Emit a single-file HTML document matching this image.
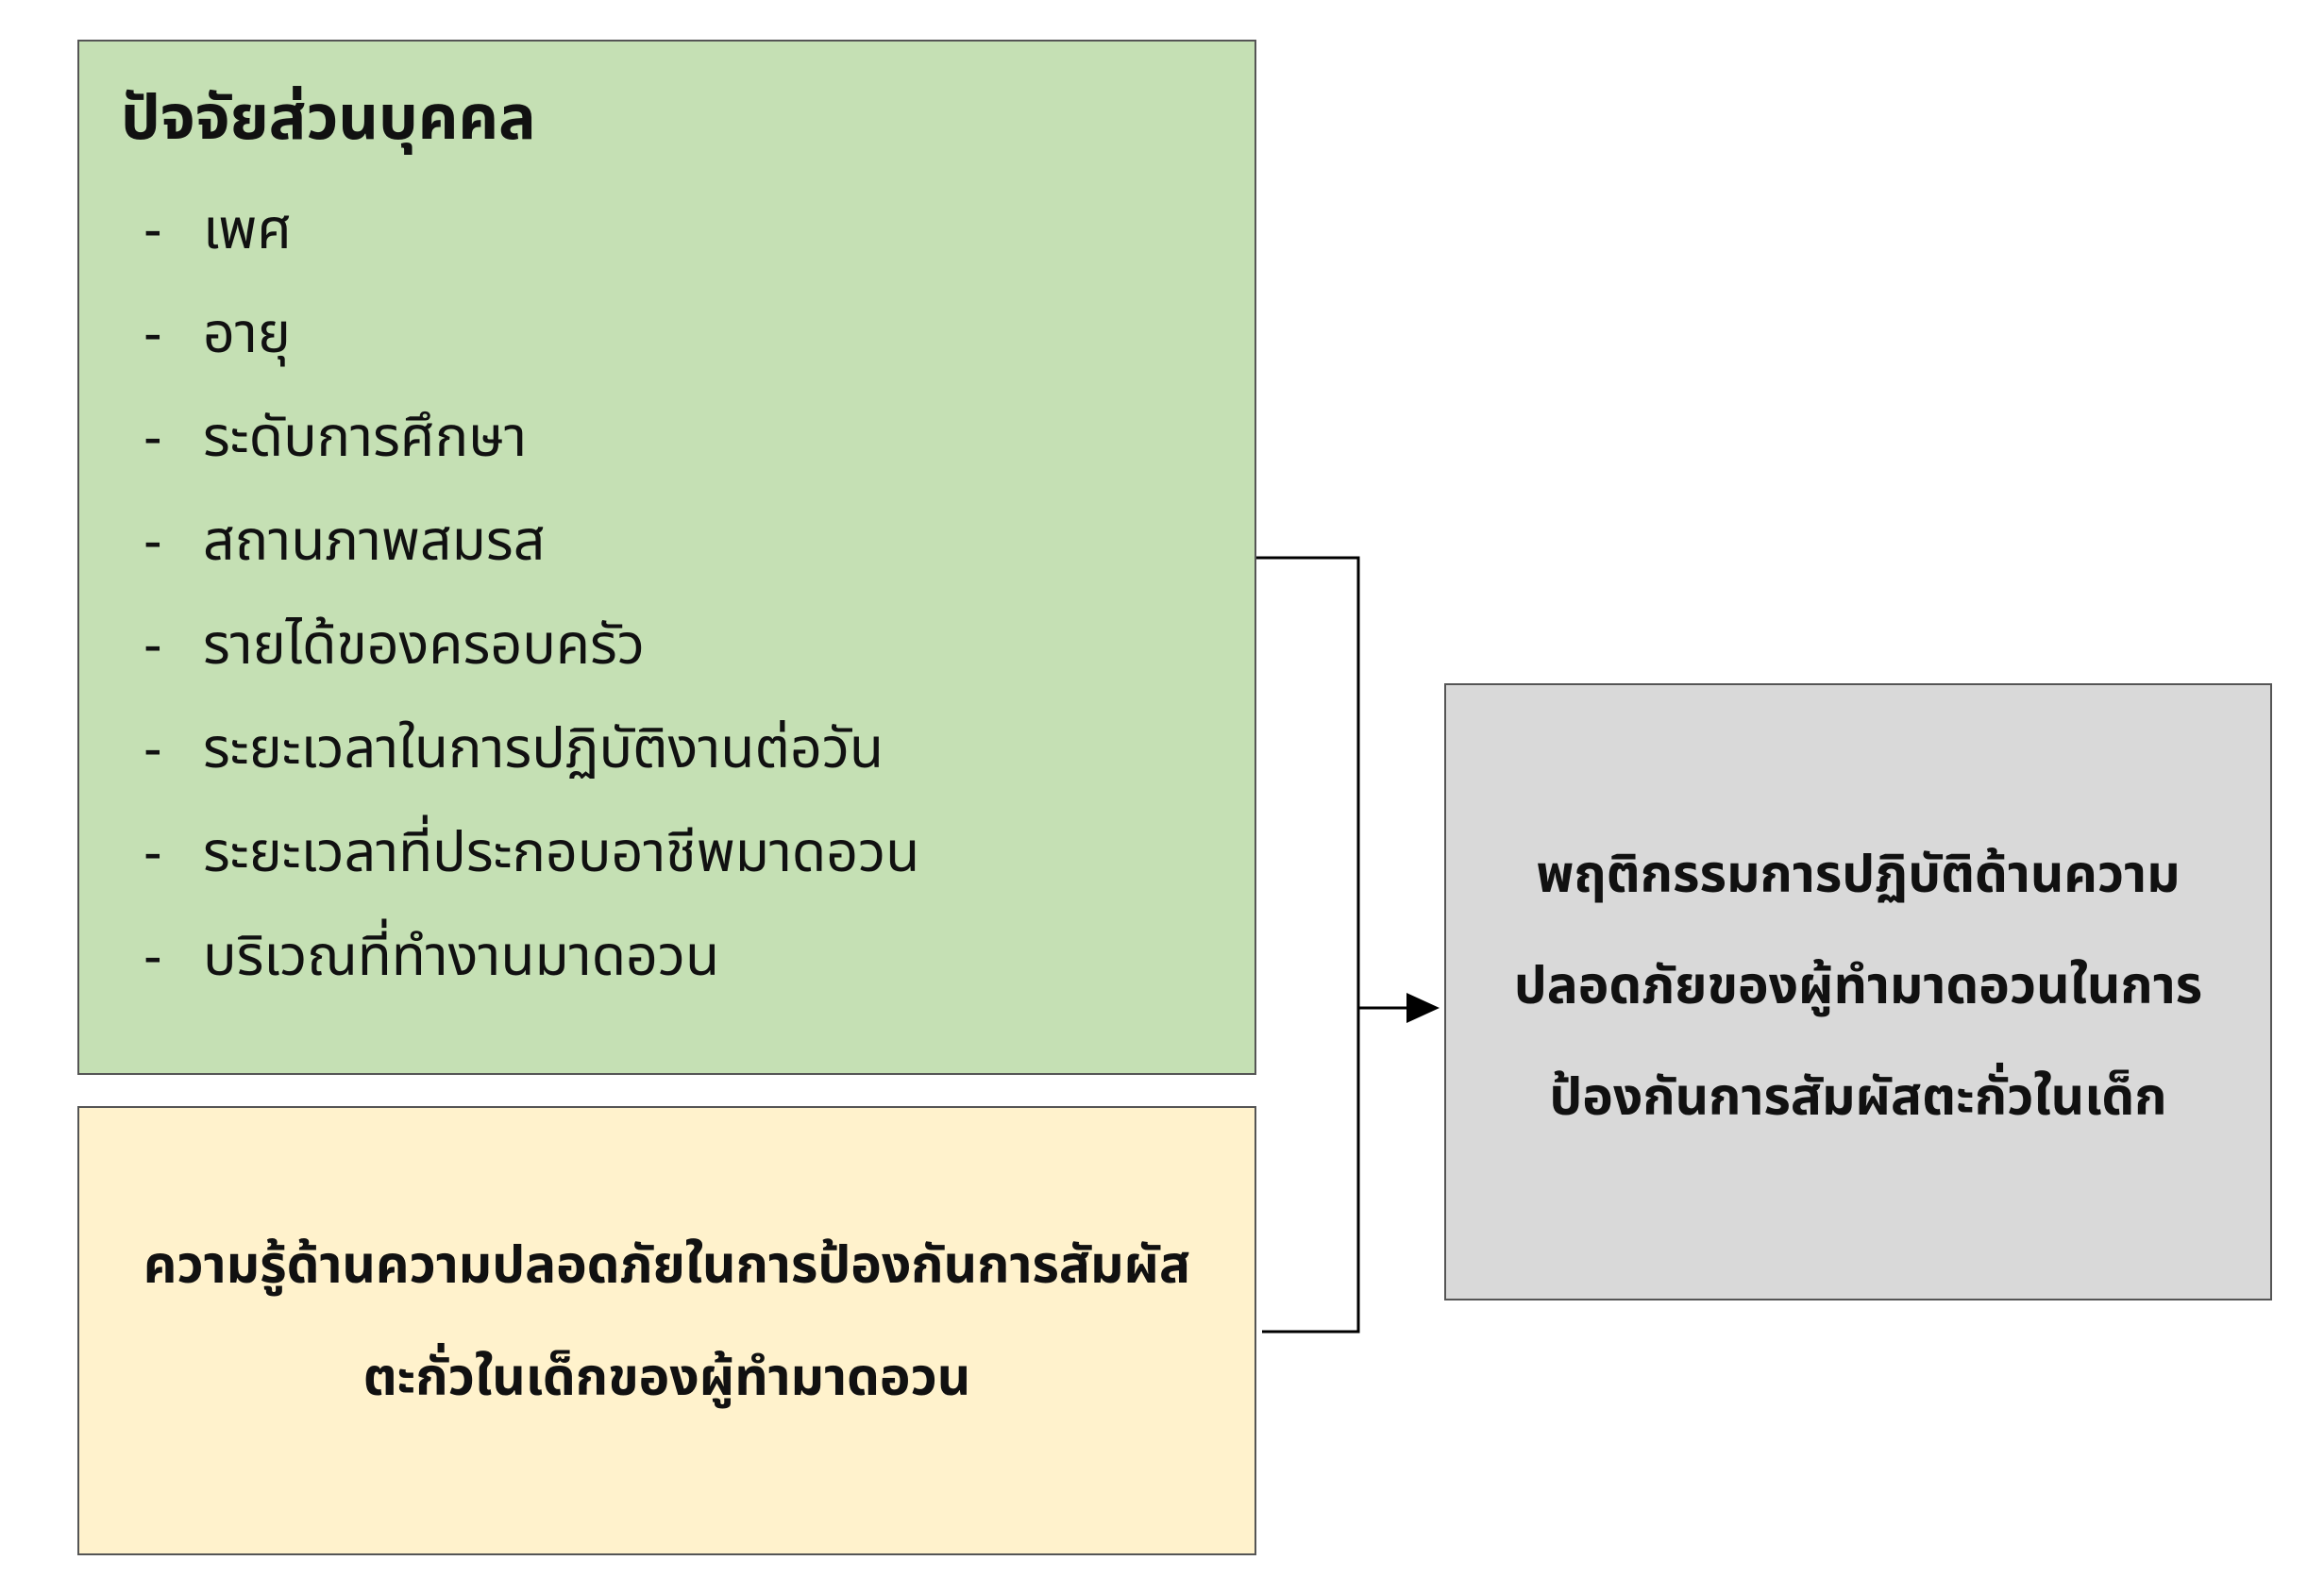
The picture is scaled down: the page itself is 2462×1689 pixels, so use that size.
<!DOCTYPE html>
<html><head><meta charset="utf-8"><style>
body{margin:0;width:2462px;height:1689px;background:#fff;position:relative;overflow:hidden;font-family:"Liberation Sans","Noto Sans Thai","Loma","Garuda",sans-serif;color:#111;}
.box{position:absolute;box-sizing:border-box;border:2px solid #555;}
.t{position:absolute;white-space:nowrap;}
.li{position:absolute;font-size:59px;line-height:70px;white-space:nowrap;}
.c{position:absolute;left:0;right:0;text-align:center;font-weight:bold;font-size:55px;line-height:64px;white-space:nowrap;}
</style></head><body>
<div class="box" style="left:82px;top:42px;width:1249px;height:1097px;background:#c5e0b4"></div>
<div class="box" style="left:82px;top:1172px;width:1249px;height:476px;background:#fff2cc"></div>
<div class="box" style="left:1530px;top:724px;width:877px;height:654px;background:#d9d9d9"></div>

<div class="t" style="left:128px;top:88px;font-size:66px;font-weight:bold;line-height:72px">ปัจจัยส่วนบุคคล</div>
<div class="li" style="left:152px;top:208px">-</div><div class="li" style="left:215px;top:208px">เพศ</div>
<div class="li" style="left:152px;top:318px">-</div><div class="li" style="left:215px;top:318px">อายุ</div>
<div class="li" style="left:152px;top:428px">-</div><div class="li" style="left:215px;top:428px">ระดับการศึกษา</div>
<div class="li" style="left:152px;top:538px">-</div><div class="li" style="left:215px;top:538px">สถานภาพสมรส</div>
<div class="li" style="left:152px;top:648px">-</div><div class="li" style="left:215px;top:648px">รายได้ของครอบครัว</div>
<div class="li" style="left:152px;top:758px">-</div><div class="li" style="left:215px;top:758px">ระยะเวลาในการปฏิบัติงานต่อวัน</div>
<div class="li" style="left:152px;top:868px">-</div><div class="li" style="left:215px;top:868px">ระยะเวลาที่ประกอบอาชีพมาดอวน</div>
<div class="li" style="left:152px;top:978px">-</div><div class="li" style="left:215px;top:978px">บริเวณที่ทำงานมาดอวน</div>

<div style="position:absolute;left:82px;width:1249px;top:0;height:1689px">
<div class="c" style="top:1308px">ความรู้ด้านความปลอดภัยในการป้องกันการสัมผัส</div>
<div class="c" style="top:1427px">ตะกั่วในเด็กของผู้ทำมาดอวน</div>
</div>
<div style="position:absolute;left:1530px;width:877px;top:0;height:1689px">
<div class="c" style="top:894px">พฤติกรรมการปฏิบัติด้านความ</div>
<div class="c" style="top:1012px">ปลอดภัยของผู้ทำมาดอวนในการ</div>
<div class="c" style="top:1130px">ป้องกันการสัมผัสตะกั่วในเด็ก</div>
</div>

<svg style="position:absolute;left:0;top:0" width="2462" height="1689">
<polyline points="1331,591 1439,591 1439,1411 1337,1411" fill="none" stroke="#000" stroke-width="3"/>
<line x1="1439" y1="1068" x2="1492" y2="1068" stroke="#000" stroke-width="3"/>
<polygon points="1490,1052 1525,1068 1490,1084" fill="#000"/>
</svg>
</body></html>
